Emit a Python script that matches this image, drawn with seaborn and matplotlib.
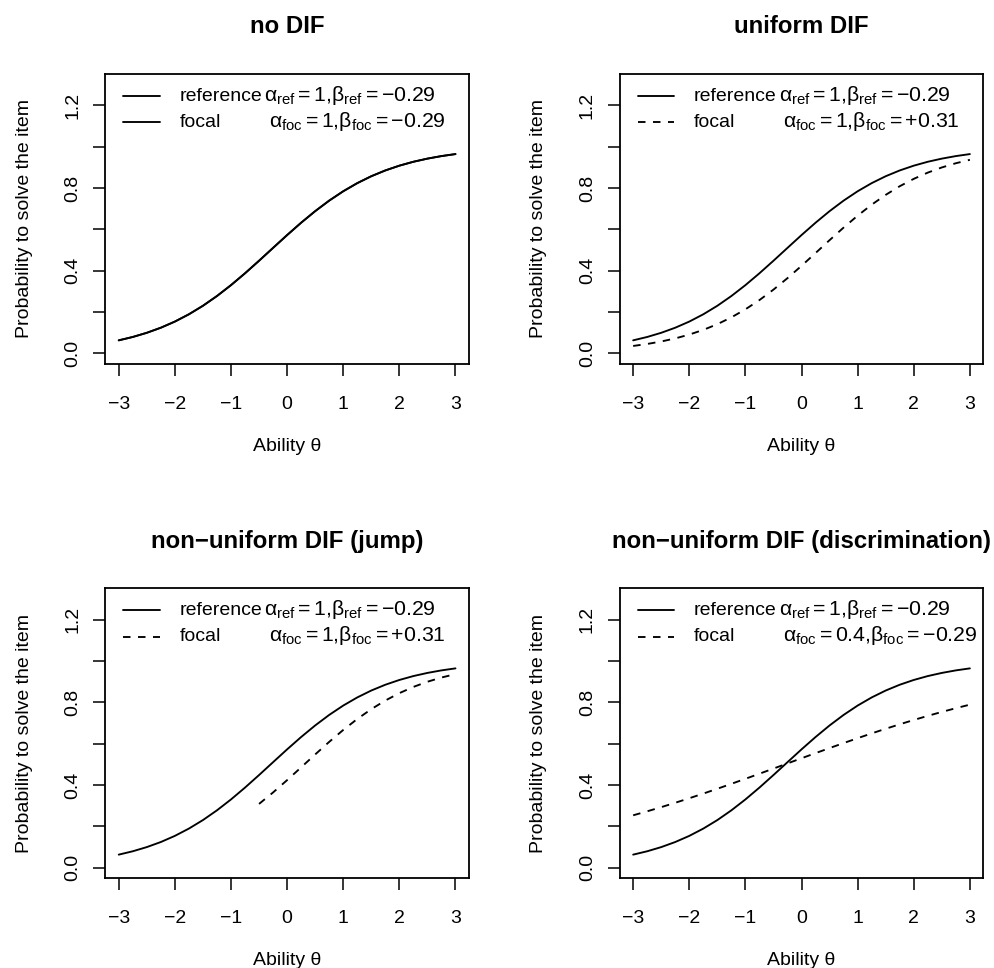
import matplotlib
matplotlib.use("Agg")
import matplotlib.pyplot as plt
import seaborn as sns
import pandas as pd
from matplotlib.lines import Line2D

# ---------------- data ----------------
theta = [-3.0, -2.75, -2.5, -2.25, -2.0, -1.75, -1.5, -1.25, -1.0, -0.75, -0.5, -0.25,
         0.0, 0.25, 0.5, 0.75, 1.0, 1.25, 1.5, 1.75, 2.0, 2.25, 2.5, 2.75, 3.0]
p_ref = [0.0624, 0.0787, 0.0989, 0.1235, 0.1532, 0.1885, 0.2297, 0.2769, 0.3296, 0.3870,
         0.4477, 0.5100, 0.5720, 0.6318, 0.6878, 0.7388, 0.7841, 0.8234, 0.8569, 0.8849,
         0.9080, 0.9269, 0.9421, 0.9544, 0.9641]
p_foc_uniform = [0.0352, 0.0448, 0.0568, 0.0717, 0.0903, 0.1130, 0.1406, 0.1736, 0.2125,
                 0.2573, 0.3079, 0.3635, 0.4231, 0.4850, 0.5474, 0.6083, 0.6660, 0.7191,
                 0.7667, 0.8085, 0.8442, 0.8744, 0.8994, 0.9198, 0.9364]
theta_jump = [-0.5, -0.25, 0.0, 0.25, 0.5, 0.75, 1.0, 1.25, 1.5, 1.75, 2.0, 2.25, 2.5, 2.75, 3.0]
p_foc_jump = [0.3079, 0.3635, 0.4231, 0.4850, 0.5474, 0.6083, 0.6660, 0.7191, 0.7667,
              0.8085, 0.8442, 0.8744, 0.8994, 0.9198, 0.9364]
p_foc_discr = [0.2528, 0.2721, 0.2923, 0.3135, 0.3354, 0.3580, 0.3813, 0.4052, 0.4295,
               0.4541, 0.4790, 0.5040, 0.5290, 0.5538, 0.5783, 0.6025, 0.6262, 0.6493,
               0.6718, 0.6934, 0.7143, 0.7342, 0.7533, 0.7714, 0.7885]

titles = ["no DIF", "uniform DIF", "non\u2212uniform DIF (jump)",
          "non\u2212uniform DIF (discrimination)"]
group_labels = ["reference", "focal"]
ref_params = r"$\alpha_{\mathrm{ref}} = 1{,}\beta_{\mathrm{ref}} = -0.29$"
foc_params = [r"$\alpha_{\mathrm{foc}} = 1{,}\beta_{\mathrm{foc}} = -0.29$",
              r"$\alpha_{\mathrm{foc}} = 1{,}\beta_{\mathrm{foc}} = +0.31$",
              r"$\alpha_{\mathrm{foc}} = 1{,}\beta_{\mathrm{foc}} = +0.31$",
              r"$\alpha_{\mathrm{foc}} = 0.4{,}\beta_{\mathrm{foc}} = -0.29$"]
xticks = [-3, -2, -1, 0, 1, 2, 3]
xtick_labels = ["\u22123", "\u22122", "\u22121", "0", "1", "2", "3"]
yticks = [0.0, 0.2, 0.4, 0.6, 0.8, 1.0, 1.2]
ytick_labels = ["0.0", "", "0.4", "", "0.8", "", "1.2"]
xlabel = "Ability \u03b8"
ylabel = "Probability to solve the item"

# ---------------- style ----------------
sns.set_style("white")
plt.rcParams["font.family"] = ["Liberation Sans", "DejaVu Sans"]
plt.rcParams.update({
    "mathtext.fontset": "custom",
    "mathtext.rm": "Liberation Sans",
    "mathtext.it": "Liberation Sans",
    "mathtext.bf": "Liberation Sans:bold",
    "axes.unicode_minus": True,
    "text.color": "black",
    "axes.labelcolor": "black",
    "xtick.color": "black",
    "ytick.color": "black",
    "axes.edgecolor": "black",
})

DASH = (0, (4, 4))
focal_x = [theta, theta, theta_jump, theta]
focal_y = [p_ref, p_foc_uniform, p_foc_jump, p_foc_discr]
focal_ls = ["-", DASH, DASH, DASH]

fig = plt.figure(figsize=(9.95, 9.68), dpi=100)
positions = [(0.1058, 0.6240, 0.3655, 0.2996), (0.6228, 0.6240, 0.3655, 0.2996),
             (0.1058, 0.0927, 0.3655, 0.2996), (0.6228, 0.0927, 0.3655, 0.2996)]

LW = 1.35
FS = 14
for i, pos in enumerate(positions):
    ax = fig.add_axes(pos)
    df_ref = pd.DataFrame({"theta": theta, "p": p_ref})
    df_foc = pd.DataFrame({"theta": focal_x[i], "p": focal_y[i]})
    sns.lineplot(data=df_ref, x="theta", y="p", ax=ax, color="black", lw=LW,
                 estimator=None, sort=False)
    sns.lineplot(data=df_foc, x="theta", y="p", ax=ax, color="black", lw=LW,
                 linestyle=focal_ls[i], estimator=None, sort=False)

    ax.set_xlim(-3.24, 3.24)
    ax.set_ylim(-0.052, 1.352)
    ax.set_xticks(xticks)
    ax.set_xticklabels(xtick_labels, fontsize=FS)
    ax.set_yticks(yticks)
    ax.set_yticklabels(ytick_labels, fontsize=FS, rotation=90, va="center")
    ax.tick_params(axis="both", which="major", direction="out", length=8.8, width=1.1,
                   color="black", labelcolor="black", bottom=True, left=True,
                   top=False, right=False)
    ax.tick_params(axis="x", pad=14.0)
    ax.tick_params(axis="y", pad=8.3)
    for s in ax.spines.values():
        s.set_visible(True)
        s.set_color("black")
        s.set_linewidth(1.3)
    ax.grid(False)

    ax.set_title(titles[i], fontsize=17.3, fontweight="bold", pad=29.3, color="black")
    ax.set_xlabel(xlabel, fontsize=FS, color="black")
    ax.xaxis.set_label_coords(0.5, -0.255)
    ax.set_ylabel(ylabel, fontsize=FS, color="black")
    ax.yaxis.set_label_coords(-0.200, 0.5)

    # legend (top-left, no box)
    row_line_y = [0.9240, 0.8330]
    row_text_y = [0.9070, 0.8170]
    styles = ["-", focal_ls[i]]
    params = [ref_params, foc_params[i]]
    param_x = [0.437, 0.449]
    for r in range(2):
        ax.add_line(Line2D([0.0495, 0.150], [row_line_y[r]] * 2, transform=ax.transAxes,
                           color="black", lw=LW, linestyle=styles[r]))
        ax.text(0.2035, row_text_y[r], group_labels[r], transform=ax.transAxes,
                fontsize=FS, va="baseline", ha="left", color="black")
        ax.text(param_x[r], row_text_y[r], params[r], transform=ax.transAxes,
                fontsize=15.3, va="baseline", ha="left", color="black")

fig.savefig("out.png", dpi=100, facecolor="white")
